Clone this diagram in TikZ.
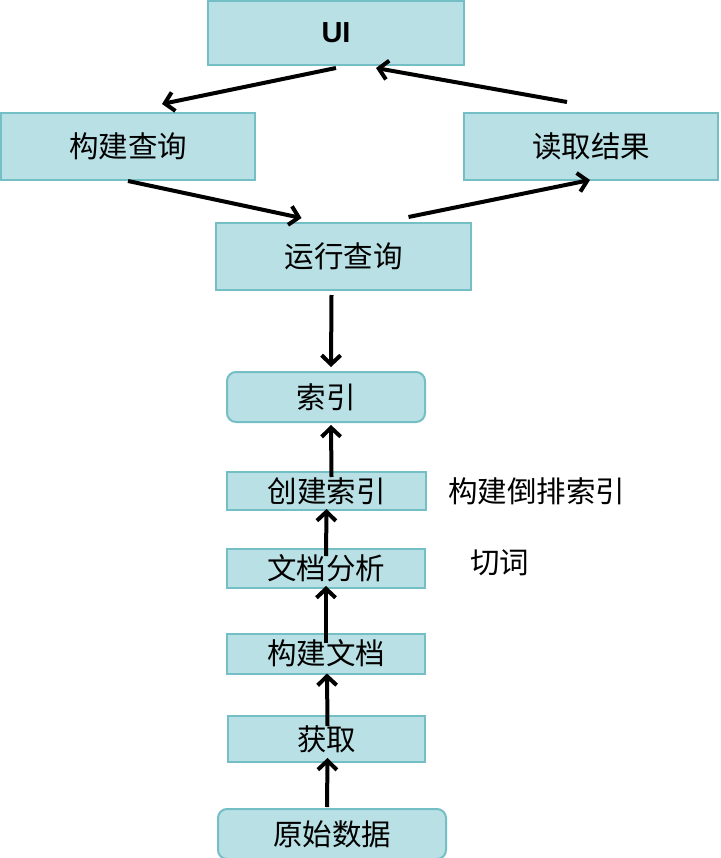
\documentclass[tikz,border=0pt]{standalone}
\usepackage{fontspec}
\setmainfont{Noto Sans CJK SC}
\newfontfamily\uifont{Liberation Sans}
\usepackage{xcolor}
\usetikzlibrary{arrows.meta}
\definecolor{boxfill}{RGB}{185,224,228}
\definecolor{boxline}{RGB}{116,190,198}

\begin{document}
\begin{tikzpicture}[x=1pt,y=-1pt,
  box/.style={draw=boxline,fill=boxfill,line width=2pt,inner sep=0pt,font=\fontsize{29.5}{34}\selectfont},
  rbox/.style={box,rounded corners=9pt},
  arr/.style={line width=4pt,-{Straight Barb[length=9pt,width=19pt,line width=4pt]}},
  note/.style={anchor=west,inner sep=0pt,font=\fontsize{29.5}{34}\selectfont}]
\useasboundingbox (0,0) rectangle (720,858);
% query side
\node[box,minimum width=256pt,minimum height=64pt] (ui) at (336,33) {\uifont\fontsize{29}{34}\selectfont\bfseries UI};
\node[box,minimum width=254pt,minimum height=67pt] (buildq) at (128,146.5) {构建查询};
\node[box,minimum width=254pt,minimum height=67pt] (readr) at (591,146.5) {读取结果};
\node[box,minimum width=255pt,minimum height=67pt] (runq) at (343.5,256.5) {运行查询};
% indexing side
\node[rbox,minimum width=198pt,minimum height=50pt] (index) at (326,397) {索引};
\node[box,minimum width=199pt,minimum height=38pt] (mkidx) at (326.5,491) {创建索引};
\node[box,minimum width=198pt,minimum height=39pt] (analyze) at (326,568.5) {文档分析};
\node[box,minimum width=198pt,minimum height=40pt] (builddoc) at (326,653.5) {构建文档};
\node[box,minimum width=197pt,minimum height=46pt] (fetch) at (326.5,739) {获取};
\node[rbox,minimum width=228pt,minimum height=50pt] (raw) at (332,834) {原始数据};
\node[note] (invidx) at (448,491) {构建倒排索引};
\node[note] (tokens) at (470,563) {切词};
% arrows
\draw[arr] ([shift={(0,2)}]ui.south) -- ([shift={(34,-8)}]buildq.north);
\draw[arr] ([shift={(-24,-10)}]readr.north) -- ([shift={(40,2)}]ui.south);
\draw[arr] (buildq.south) -- ([shift={(-42,-4)}]runq.north);
\draw[arr] ([shift={(65,-5)}]runq.north) -- ([shift={(-1,-1)}]readr.south);
\draw[arr] ([shift={(-12,4)}]runq.south) -- ([shift={(5,-4)}]index.north);
\draw[arr] ([shift={(5,6)}]mkidx.north) -- ([shift={(5,2)}]index.south);
\draw[arr] ([shift={(0,8)}]analyze.north) -- ([shift={(0,-2)}]mkidx.south);
\draw[arr] ([shift={(0,10)}]builddoc.north) -- ([shift={(0,-3)}]analyze.south);
\draw[arr] ([shift={(1,11)}]fetch.north) -- ([shift={(1,-1)}]builddoc.south);
\draw[arr] ([shift={(-5,-1)}]raw.north) -- ([shift={(1,-5)}]fetch.south);
\end{tikzpicture}
\end{document}
